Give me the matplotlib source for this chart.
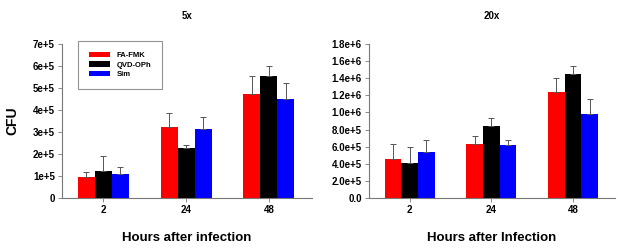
import matplotlib.pyplot as plt
import numpy as np

plt.rcParams['font.family'] = ['Liberation Sans', 'DejaVu Sans']
plt.rcParams['font.weight'] = 'bold'
plt.rcParams['axes.labelweight'] = 'bold'
plt.rcParams['axes.titleweight'] = 'bold'

hours = ['2', '24', '48']
series = ['FA-FMK', 'QVD-OPh', 'Sim']
colors = ['#ff0000', '#000000', '#0000ff']

# 5x panel: means and upper error
mean_5x = [[0.96e5, 3.21e5, 4.73e5],
           [1.23e5, 2.28e5, 5.56e5],
           [1.07e5, 3.12e5, 4.52e5]]
err_5x = [[0.23e5, 0.64e5, 0.84e5],
          [0.67e5, 0.15e5, 0.45e5],
          [0.32e5, 0.55e5, 0.70e5]]

# 20x panel
mean_20x = [[4.54e5, 6.30e5, 1.236e6],
            [4.11e5, 8.41e5, 1.452e6],
            [5.36e5, 6.18e5, 0.982e6]]
err_20x = [[1.72e5, 0.94e5, 1.69e5],
           [1.84e5, 0.90e5, 0.89e5],
           [1.41e5, 0.59e5, 1.72e5]]

fig = plt.figure(figsize=(6.19, 2.49), dpi=100)
ax1 = fig.add_axes([0.100, 0.205, 0.404, 0.618])
ax2 = fig.add_axes([0.596, 0.205, 0.398, 0.618])

x = np.arange(len(hours))
w = 0.205


def draw(ax, means, errs):
    for i in range(3):
        ax.bar(x + (i - 1) * w, means[i], w, color=colors[i], label=series[i],
               yerr=[np.zeros(3), errs[i]], ecolor='#555555',
               error_kw=dict(elinewidth=0.7, capsize=2.5, capthick=0.7))
    ax.set_xlim(-0.5, 2.52)
    ax.set_xticks(x)
    ax.set_xticklabels(hours)
    for s in ['top', 'right']:
        ax.spines[s].set_visible(False)
    for s in ['left', 'bottom']:
        ax.spines[s].set_color('#777777')
        ax.spines[s].set_linewidth(0.8)
    ax.tick_params(axis='both', labelsize=7, length=3, width=0.6, color='#777777', pad=2)


draw(ax1, mean_5x, err_5x)
ax1.set_ylim(0, 7e5)
ax1.set_yticks(np.arange(0, 7.01e5, 1e5))
ax1.set_yticklabels(['0'] + ['%de+5' % k for k in range(1, 8)])
ax1.set_ylabel('CFU', fontsize=10, labelpad=10)
ax1.set_xlabel('Hours after infection', fontsize=9.5, labelpad=12)
ax1.set_title('5x', fontsize=7, pad=18)
leg = ax1.legend(loc='upper left', bbox_to_anchor=(0.065, 1.02), fontsize=5.5, frameon=True,
                 fancybox=False, edgecolor='#777777', handlelength=2.8, handleheight=0.7,
                 borderpad=1.4, labelspacing=0.3, borderaxespad=0)
leg.get_frame().set_linewidth(0.8)

draw(ax2, mean_20x, err_20x)
ax2.set_ylim(0, 1.8e6)
ax2.set_yticks(np.arange(0, 1.801e6, 2e5))
ax2.set_yticklabels(['0.0'] + ['%.1fe+%d' % ((v / 1e5, 5) if v < 1e6 else (v / 1e6, 6))
                               for v in np.arange(2e5, 1.801e6, 2e5)])
ax2.set_xlabel('Hours after Infection', fontsize=9.5, labelpad=12)
ax2.set_title('20x', fontsize=7, pad=18)

fig.savefig('out.png', dpi=100)
